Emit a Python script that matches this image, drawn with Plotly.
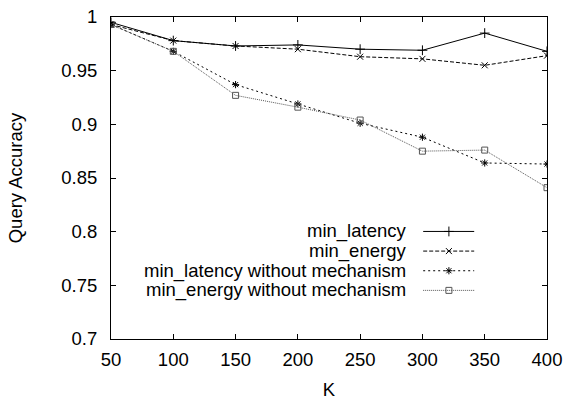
import plotly.graph_objects as go

K = [50, 100, 150, 200, 250, 300, 350, 400]
min_latency = [0.995, 0.978, 0.973, 0.974, 0.970, 0.969, 0.985, 0.968]
min_energy = [0.993, 0.978, 0.973, 0.970, 0.963, 0.961, 0.955, 0.964]
min_latency_wo = [0.993, 0.968, 0.937, 0.919, 0.901, 0.888, 0.864, 0.863]
min_energy_wo = [0.993, 0.968, 0.927, 0.916, 0.904, 0.875, 0.876, 0.841]

names = ["min_latency", "min_energy", "min_latency without mechanism", "min_energy without mechanism"]
series = [min_latency, min_energy, min_latency_wo, min_energy_wo]
dashes = ["solid", "4px,2px", "2px,3px", "1px,1px"]
colors = ["#000000", "#000000", "#000000", "#555555"]
symbols = ["cross-thin-open", "x-thin-open", "asterisk-open", "square-open"]
msizes = [7, 6, 6, 6]

FONT = "Liberation Sans, Arial, sans-serif"
FS = 18.5

fig = go.Figure()
for nm, ys, d, c, s, ms in zip(names, series, dashes, colors, symbols, msizes):
    fig.add_trace(go.Scatter(
        x=K, y=ys, mode="lines+markers", name=nm,
        line=dict(color=c, width=1, dash=d),
        marker=dict(symbol=s, size=ms, color=c, line=dict(color=c, width=1)),
        showlegend=False,
    ))

# gnuplot-style legend: text on the left, sample on the right
leg_rows = [0.334, 0.273, 0.212, 0.151]
x0, xm, x1 = 0.716, 0.775, 0.833
for nm, d, c, s, ms, ry in zip(names, dashes, colors, symbols, msizes, leg_rows):
    fig.add_trace(go.Scatter(
        x=[x0, x1], y=[ry, ry], mode="lines", xaxis="x2", yaxis="y2",
        line=dict(color=c, width=1, dash=d), showlegend=False, hoverinfo="skip"))
    fig.add_trace(go.Scatter(
        x=[xm], y=[ry], mode="markers", xaxis="x2", yaxis="y2",
        marker=dict(symbol=s, size=ms, color=c, line=dict(color=c, width=1)),
        showlegend=False, hoverinfo="skip"))
    fig.add_annotation(x=0.682, y=ry, xref="paper", yref="paper", text=nm,
                       showarrow=False, xanchor="right", yanchor="middle",
                       font=dict(family=FONT, size=FS, color="black"))

axis_common = dict(
    showline=True, linecolor="black", linewidth=1, mirror="ticks",
    ticks="inside", ticklen=5, tickwidth=1, tickcolor="black",
    showgrid=False, zeroline=False, automargin=False,
    ticklabeloverflow="allow",
    tickfont=dict(family=FONT, size=FS, color="black"),
)

fig.update_layout(
    template="none",
    width=565, height=403,
    margin=dict(l=111, r=18, t=17, b=64, pad=0),
    plot_bgcolor="white", paper_bgcolor="white",
    xaxis=dict(range=[50, 400], tickvals=K, ticklabelstandoff=4,
               title=dict(text="K", font=dict(family=FONT, size=FS, color="black"), standoff=13),
               **axis_common),
    yaxis=dict(range=[0.7, 1.0], tickvals=[0.7, 0.75, 0.8, 0.85, 0.9, 0.95, 1.0],
               ticktext=["0.7", "0.75", "0.8", "0.85", "0.9", "0.95", "1"],
               ticklabelstandoff=9,
               title=dict(text="Query Accuracy", font=dict(family=FONT, size=FS, color="black"), standoff=33),
               **axis_common),
    xaxis2=dict(overlaying="x", range=[0, 1], visible=False),
    yaxis2=dict(overlaying="y", range=[0, 1], visible=False),
    showlegend=False,
)

fig.write_html("out.html",
               config={"displayModeBar": False, "staticPlot": True},
               post_script="document.body.style.margin='0';document.body.style.overflow='hidden';")
